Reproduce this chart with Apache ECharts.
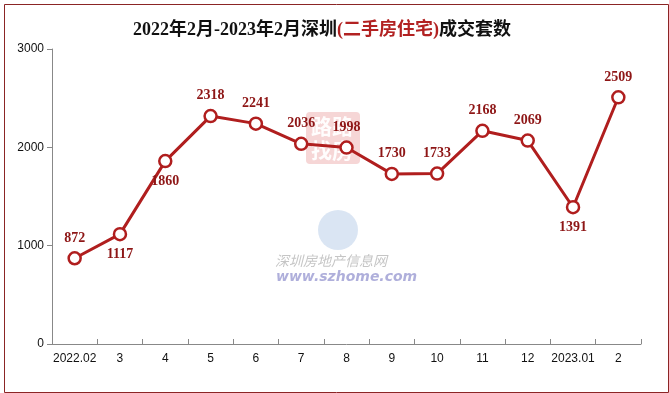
<!DOCTYPE html>
<html><head><meta charset="utf-8">
<script src="https://cdn.jsdelivr.net/npm/echarts@6/dist/echarts.min.js"></script>
<style>html,body{margin:0;padding:0;background:#fff}#c{width:669px;height:393px}</style>
</head><body><div id="c"></div>
<script>
var categories = ['2022.02','3','4','5','6','7','8','9','10','11','12','2023.01','2'];
var values = [872,1117,1860,2318,2241,2036,1998,1730,1733,2168,2069,1391,2509];
var labelPos = ['top','bottom','bottom','top','top','top','top','top','top','top','top','bottom','top'];
var yTicks = [0,1000,2000,3000];

var chart = echarts.init(document.getElementById('c'));
var red = '#B01E1E';
chart.setOption({
  animation:false,
  backgroundColor:'#fff',
  title:{
    text:'{b|2022年2月-2023年2月深圳}{r|(二手房住宅)}{b|成交套数}',
    left:128, top:16,
    textStyle:{rich:{
      b:{fontFamily:'"Liberation Serif","Noto Sans CJK SC",serif',fontWeight:'bold',fontSize:18,color:'#111'},
      r:{fontFamily:'"Liberation Serif","Noto Sans CJK SC",serif',fontWeight:'bold',fontSize:18,color:'#B22222'}
    }}
  },
  graphic:[
    {type:'rect',left:2,top:2,shape:{width:664,height:388},style:{fill:'none',stroke:'#8B2525',lineWidth:1},silent:true,z:-1},
    {type:'rect',left:306,top:112,shape:{width:54,height:52,r:4},style:{fill:'rgba(220,90,90,0.25)'},z:-1},
    {type:'text',left:311,top:114,style:{text:'路路\n找房',fill:'rgba(255,255,255,0.95)',font:'bold 21px "Noto Sans CJK SC"',lineHeight:24},z:-1},
    {type:'circle',shape:{cx:338,cy:230,r:20},style:{fill:'rgba(150,180,220,0.35)'},z:-1},
    {type:'text',left:275,top:254,style:{text:'深圳房地产信息网',fill:'rgba(150,150,150,0.55)',font:'italic 14px "Noto Sans CJK SC"'},z:-1},
    {type:'text',left:276,top:270,style:{text:'www.szhome.com',fill:'rgba(110,110,190,0.55)',font:'italic bold 14px "DejaVu Sans"'},z:-1}
  ],
  grid:{left:52,right:28,top:49,bottom:49},
  xAxis:{
    type:'category', data:categories, boundaryGap:true,
    axisLine:{lineStyle:{color:'#888'}},
    axisTick:{show:true,alignWithLabel:false,length:5,lineStyle:{color:'#888'},inside:true},
    axisLabel:{color:'#111',fontSize:12,fontFamily:'"Liberation Sans","Noto Sans CJK SC",sans-serif',margin:9,interval:0}
  },
  yAxis:{
    type:'value', min:yTicks[0], max:yTicks[yTicks.length-1], interval:1000,
    axisLine:{show:true,lineStyle:{color:'#888'}},
    axisTick:{show:true,length:5,lineStyle:{color:'#888'}},
    splitLine:{show:false},
    axisLabel:{color:'#111',fontSize:12,fontFamily:'"Liberation Sans",sans-serif',margin:8,formatter:function(v){return String(v);}}
  },
  series:[{
    type:'line', data:values.map(function(v,i){return {value:v,label:{position:labelPos[i]}};}),
    lineStyle:{color:red,width:3},
    itemStyle:{color:'#fff',borderColor:red,borderWidth:2.5},
    symbol:'circle', symbolSize:12, showAllSymbol:true,
    label:{show:true,color:'#8E1616',fontSize:14,fontWeight:'bold',fontFamily:'"Liberation Serif",serif',distance:6},
    z:3
  }]
});
</script></body></html>
